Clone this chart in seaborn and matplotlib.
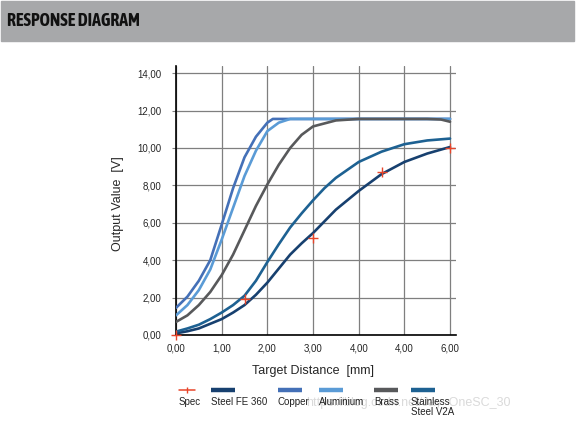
import matplotlib
matplotlib.use('Agg')
import matplotlib.pyplot as plt
import seaborn as sns
from matplotlib import font_manager
from matplotlib.lines import Line2D
from matplotlib.patches import Rectangle

# --- data
steel_x = [0, 0.25, 0.5, 0.75, 1.0, 1.25, 1.5, 1.75, 2.0, 2.25, 2.5, 2.75, 3.0, 3.5, 4.0, 4.5, 5.0, 5.5, 6.0]
steel_y = [0.09, 0.2, 0.35, 0.6, 0.85, 1.2, 1.6, 2.15, 2.8, 3.55, 4.3, 4.9, 5.45, 6.7, 7.7, 8.6, 9.25, 9.7, 10.05]

copper_x = [0, 0.25, 0.5, 0.75, 1.0, 1.25, 1.5, 1.75, 2.0, 2.12, 2.5, 3.0, 4.0, 5.0, 6.0]
copper_y = [1.45, 2.05, 2.9, 4.0, 5.9, 7.85, 9.5, 10.6, 11.35, 11.55, 11.55, 11.55, 11.55, 11.55, 11.55]

alu_x = [0, 0.25, 0.5, 0.75, 1.0, 1.25, 1.5, 1.75, 2.0, 2.25, 2.5, 3.0, 4.0, 5.0, 6.0]
alu_y = [1.05, 1.6, 2.4, 3.5, 5.1, 6.8, 8.5, 9.85, 10.9, 11.35, 11.55, 11.55, 11.55, 11.55, 11.55]

brass_x = [0, 0.25, 0.5, 0.75, 1.0, 1.25, 1.5, 1.75, 2.0, 2.25, 2.5, 2.75, 3.0, 3.5, 4.0, 5.0, 5.5, 5.8, 6.0]
brass_y = [0.7, 1.05, 1.6, 2.3, 3.2, 4.3, 5.6, 6.9, 8.05, 9.1, 10.0, 10.7, 11.15, 11.47, 11.55, 11.55, 11.55, 11.52, 11.4]

v2a_x = [0, 0.25, 0.5, 0.75, 1.0, 1.25, 1.5, 1.75, 2.0, 2.25, 2.5, 2.75, 3.0, 3.25, 3.5, 4.0, 4.5, 5.0, 5.5, 6.0]
v2a_y = [0.18, 0.35, 0.55, 0.85, 1.2, 1.6, 2.1, 2.9, 3.9, 4.85, 5.75, 6.5, 7.2, 7.85, 8.4, 9.25, 9.8, 10.2, 10.4, 10.5]

spec_x = [0, 1.5, 3.0, 4.5, 6.0]
spec_y = [0, 1.9, 5.2, 8.7, 10.0]

xticks = [0, 1, 2, 3, 4, 5, 6]
xtick_labels = ['0,00', '1,00', '2,00', '3,00', '4,00', '4,00', '6,00']
yticks = [0, 2, 4, 6, 8, 10, 12, 14]
ytick_labels = ['0,00', '2,00', '4,00', '6,00', '8,00', '10,00', '12,00', '14,00']

names = ['Steel FE 360', 'Copper', 'Aluminium', 'Brass', 'Stainless\nSteel V2A']
colors = ['#17406f', '#4470b7', '#5a9bd6', '#58595b', '#1d6192']
spec_color = '#e8452a'

sns.set_theme(style='white')
plt.rcParams['font.family'] = ['Liberation Sans', 'DejaVu Sans']

# header font: a narrow face that comes in bold, else Roboto
def is_bold(w):
    return w in ('bold', 'heavy', 'black', 'extra bold', 'demibold') or (isinstance(w, int) and w >= 600)

narrow_bold = sorted({f.name for f in font_manager.fontManager.ttflist
                      if ('Narrow' in f.name or 'Condensed' in f.name) and is_bold(f.weight)})
if narrow_bold:
    title_family, title_size = [narrow_bold[0], 'Liberation Sans'], 12.8
else:
    title_family, title_size = ['Roboto', 'Liberation Sans'], 10

fig = plt.figure(figsize=(5.76, 4.22), dpi=100)
ax = fig.add_axes([176 / 576, 1 - 335 / 422, 280 / 576, 269 / 422])

series = [(steel_x, steel_y), (copper_x, copper_y), (alu_x, alu_y),
          (brass_x, brass_y), (v2a_x, v2a_y)]
for (xs, ys), c in zip(series, colors):
    sns.lineplot(x=xs, y=ys, color=c, lw=1.9, ax=ax, zorder=3)

sns.scatterplot(x=spec_x, y=spec_y, marker='+', s=45, color=spec_color,
                linewidth=1.0, ax=ax, zorder=4, clip_on=False)

ax.set_xlim(0, 6.13)
ax.set_ylim(0, 14.38)
ax.set_xticks(xticks, xtick_labels)
ax.set_yticks(yticks, ytick_labels)
ax.tick_params(axis='y', length=3, width=0.8, color='#808080', pad=7.5, labelsize=7, direction='out', left=True)
ax.tick_params(axis='x', length=0, pad=6, labelsize=7)
ax.grid(True, color='#7f7f7f', lw=0.9)
ax.set_axisbelow(True)
for s in ['top', 'right']:
    ax.spines[s].set_visible(False)
for s in ['left', 'bottom']:
    ax.spines[s].set_color('black')
    ax.spines[s].set_linewidth(1.2)

ax.set_xlabel('Target Distance  [mm]', fontsize=9)
ax.set_ylabel('Output Value  [V]', fontsize=9)
ax.xaxis.set_label_coords(0.49, -0.11)
ax.yaxis.set_label_coords(-0.185, 0.49)

# header bar
fig.add_artist(Rectangle((1 / 576, 1 - 41 / 422), 573 / 576, 40 / 422,
                         transform=fig.transFigure, color='#a7a8aa', zorder=0))
fig.text(7 / 576, 1 - 20.5 / 422, 'RESPONSE DIAGRAM', fontsize=title_size, fontweight='bold',
         family=title_family, color='#111111', va='center')

# watermark
fig.text(306 / 576, 1 - 403 / 422, 'https://blog.csdn.net/Jay_OneSC_30', fontsize=9,
         color='#dadada', va='center', zorder=0)

# legend: handle above label
hy = 1 - 390 / 422
ty = 1 - 397 / 422
fig.add_artist(Line2D([179 / 576, 195 / 576], [hy, hy], color=spec_color, lw=1.1,
                      transform=fig.transFigure))
fig.add_artist(Line2D([187 / 576], [hy], marker='|', ms=5, mew=1.0, color=spec_color,
                      transform=fig.transFigure))
fig.text(179 / 576, ty, 'Spec', fontsize=7, va='top', color='#222222')
starts = [211, 278, 319, 374, 411]
for x0, name, c in zip(starts, names, colors):
    fig.add_artist(Line2D([x0 / 576, (x0 + 24) / 576], [hy, hy], color=c, lw=3.2,
                          solid_capstyle='butt', transform=fig.transFigure))
    fig.text(x0 / 576, ty, name, fontsize=7, va='top', color='#222222', linespacing=1.05)

fig.savefig('out.png', dpi=100)
